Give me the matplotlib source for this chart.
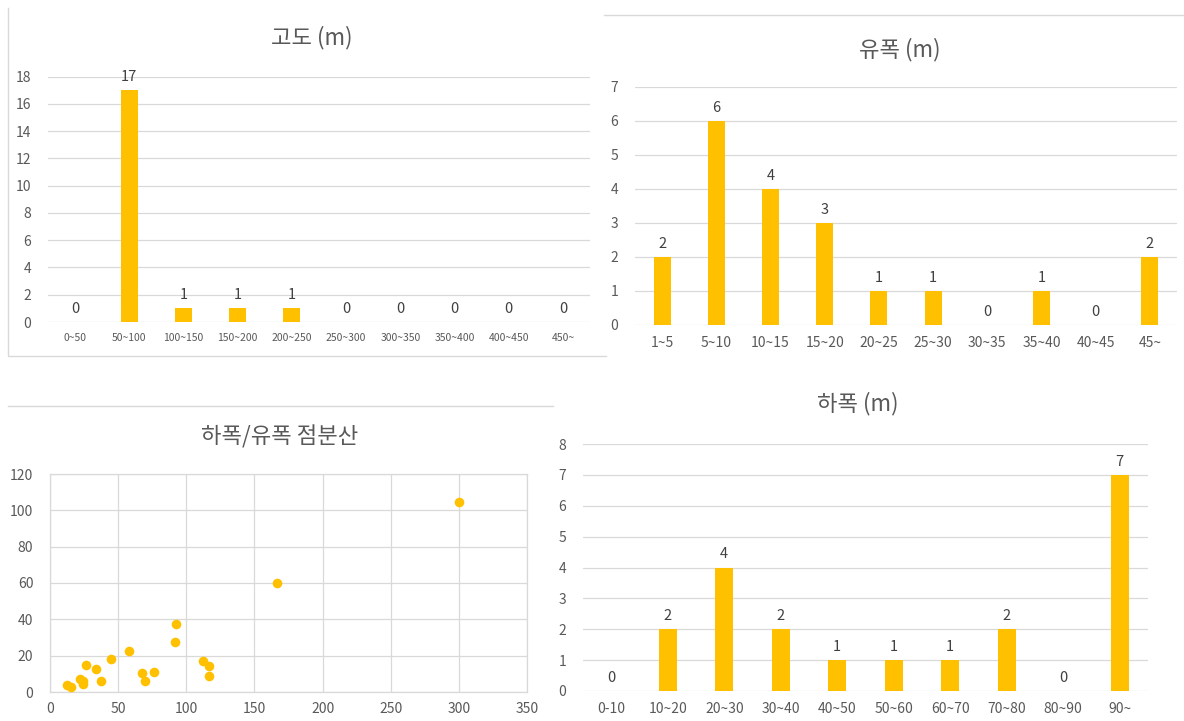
import matplotlib
matplotlib.use("Agg")
import matplotlib.pyplot as plt
from matplotlib.lines import Line2D

plt.rcParams['font.family'] = ['Noto Sans CJK KR', 'DejaVu Sans']

# ---- data ----
alt_cats = ["0~50", "50~100", "100~150", "150~200", "200~250", "250~300",
            "300~350", "350~400", "400~450", "450~"]
alt_vals = [0, 17, 1, 1, 1, 0, 0, 0, 0, 0]

flow_cats = ["1~5", "5~10", "10~15", "15~20", "20~25", "25~30",
             "30~35", "35~40", "40~45", "45~"]
flow_vals = [2, 6, 4, 3, 1, 1, 0, 1, 0, 2]

river_cats = ["0-10", "10~20", "20~30", "30~40", "40~50", "50~60",
              "60~70", "70~80", "80~90", "90~"]
river_vals = [0, 2, 4, 2, 1, 1, 1, 2, 0, 7]

scatter_x = [12.4, 15.3, 22.3, 24.5, 24.1, 26.5, 33.5, 37.4, 44.5, 57.6,
             67.3, 70.0, 76.5, 91.8, 92.5, 112.3, 116.5, 117.0, 166.9, 300.4]
scatter_y = [4.1, 3.0, 7.1, 6.0, 4.5, 14.8, 12.7, 6.2, 18.3, 22.8,
             10.6, 5.8, 11.2, 27.3, 37.3, 16.9, 14.2, 8.9, 60.0, 104.4]

titles = ["고도 (m)", "유폭 (m)", "하폭/유폭 점분산", "하폭 (m)"]

# ---- style ----
W, H = 1184, 721
BAR = "#FFC000"
GRID = "#D9D9D9"
TXT = "#595959"
LBL = "#404040"

fig = plt.figure(figsize=(W / 100, H / 100), dpi=100)
fig.patch.set_facecolor("white")


def px_axes(x0, y0, x1, y1):
    return fig.add_axes([x0 / W, 1 - y1 / H, (x1 - x0) / W, (y1 - y0) / H])


def fig_line(xs, ys):
    fig.add_artist(Line2D([x / W for x in xs], [1 - y / H for y in ys],
                          color=GRID, lw=1.0, transform=fig.transFigure))


def bar_chart(box, cats, vals, ymax, title, title_xy, xfs, yfs, lfs):
    ax = px_axes(*box)
    xs = list(range(len(cats)))
    ax.bar(xs, vals, width=0.31, color=BAR, zorder=3)
    ax.set_xlim(-0.5, len(cats) - 0.5)
    ax.set_ylim(0, ymax)
    ax.set_yticks(range(0, ymax + 1, 2 if ymax > 10 else 1))
    ax.set_xticks(xs)
    ax.set_xticklabels(cats)
    ax.grid(axis="y", color=GRID, lw=0.9, zorder=0)
    ax.set_axisbelow(True)
    for s in ax.spines.values():
        s.set_visible(False)
    ax.tick_params(axis="both", length=0, colors=TXT)
    ax.tick_params(axis="x", labelsize=xfs, pad=8)
    ax.tick_params(axis="y", labelsize=yfs, pad=12)
    for x, v in zip(xs, vals):
        ax.annotate(str(v), (x, v), xytext=(0, 4.5), textcoords="offset points",
                    ha="center", va="bottom", fontsize=lfs, color=LBL)
    fig.text(title_xy[0] / W, 1 - title_xy[1] / H, title, ha="center",
             va="center", fontsize=16, color=TXT)
    return ax


# chart 1: altitude
bar_chart((48, 76.7, 590, 322), alt_cats, alt_vals, 18, titles[0], (312, 38),
          7.5, 10, 10.5)
fig_line([8, 8, 606], [8, 356, 356])

# chart 2: flow width
bar_chart((635, 87, 1177, 325), flow_cats, flow_vals, 7, titles[1], (900, 50),
          10, 10, 10.5)
fig_line([604, 1184], [15, 15])

# chart 3: scatter
ax3 = px_axes(50, 474, 527, 692)
ax3.scatter(scatter_x, scatter_y, s=48, color=BAR, zorder=3, linewidths=0)
ax3.set_xlim(0, 350)
ax3.set_ylim(0, 120)
ax3.set_xticks(range(0, 351, 50))
ax3.set_yticks(range(0, 121, 20))
ax3.grid(True, color=GRID, lw=0.9, zorder=0)
ax3.set_axisbelow(True)
for s in ax3.spines.values():
    s.set_color(GRID)
    s.set_linewidth(0.9)
ax3.tick_params(axis="both", length=0, colors=TXT, labelsize=10)
ax3.tick_params(axis="x", pad=7)
ax3.tick_params(axis="y", pad=12)
fig.text(280 / W, 1 - 437 / H, titles[2], ha="center", va="center",
         fontsize=16, color=TXT)
fig_line([8, 553], [406, 406])

# chart 4: river width
bar_chart((583, 444, 1148, 691), river_cats, river_vals, 8, titles[3], (858, 404),
          10, 10, 10.5)

fig.savefig("out.png", dpi=100, facecolor="white")
